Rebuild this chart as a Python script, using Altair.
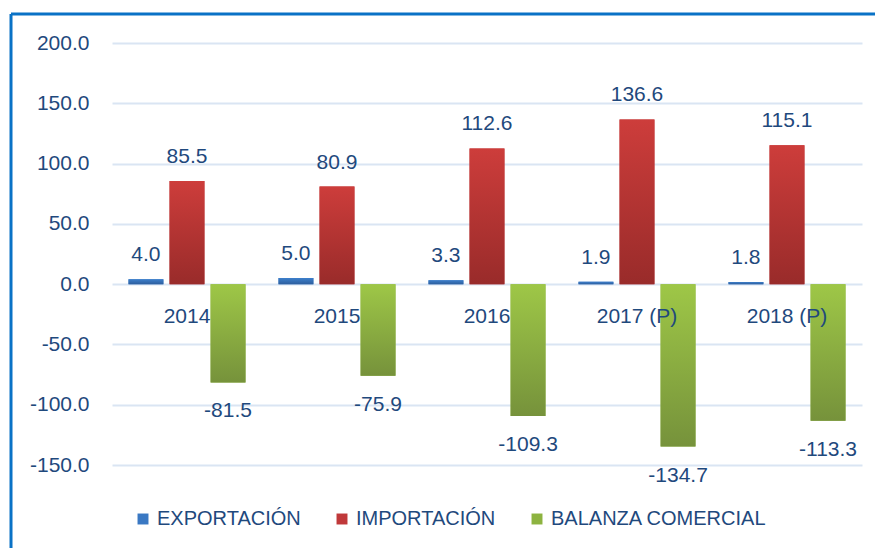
import altair as alt
import pandas as pd

years = ["2014", "2015", "2016", "2017 (P)", "2018 (P)"]
series = ["EXPORTACIÓN", "IMPORTACIÓN", "BALANZA COMERCIAL"]
exportacion = [4.0, 5.0, 3.3, 1.9, 1.8]
importacion = [85.5, 80.9, 112.6, 136.6, 115.1]
balanza = [-81.5, -75.9, -109.3, -134.7, -113.3]
y_ticks = [-150, -100, -50, 0, 50, 100, 150, 200]

rows = []
for i, yr in enumerate(years):
    rows.append({"year": yr, "series": series[0], "value": exportacion[i]})
    rows.append({"year": yr, "series": series[1], "value": importacion[i]})
    rows.append({"year": yr, "series": series[2], "value": balanza[i]})
df = pd.DataFrame(rows)

FONT = "Liberation Sans"
TXT = "#1F497D"
solid = ["#3a78c3", "#c0393a", "#8db340"]

def grad(top, bottom):
    return alt.Gradient(
        gradient="linear",
        stops=[alt.GradientStop(color=top, offset=0), alt.GradientStop(color=bottom, offset=1)],
        x1=0, x2=0, y1=0, y2=1,
    )

grads = [grad("#3d7fcb", "#2d5f9e"), grad("#cd3d3b", "#992b2a"), grad("#9ec747", "#76923b")]

X = alt.X("year:N", sort=years, scale=alt.Scale(domain=years, paddingInner=0.22, paddingOuter=0.11), axis=None)
XO = alt.XOffset("series:N", sort=series, scale=alt.Scale(domain=series, paddingInner=0.15, paddingOuter=0))
Y = alt.Y(
    "value:Q",
    scale=alt.Scale(domain=[-150, 200], nice=False, zero=False),
    axis=alt.Axis(
        values=y_ticks, title=None, domain=False, ticks=False,
        labelExpr="replace(format(datum.value, '.1f'), '\u2212', '-')",
        labelFont=FONT, labelFontSize=21, labelColor=TXT, labelPadding=23,
        grid=True, gridColor="#dae5f3", gridWidth=2,
    ),
)

base = alt.Chart(df).transform_calculate(
    label="replace(format(datum.value, '.1f'), '\u2212', '-')"
)

bars = base.mark_bar().encode(
    x=X, xOffset=XO, y=Y,
    color=alt.Color(
        "series:N", sort=series,
        scale=alt.Scale(domain=series, range=solid),
        legend=alt.Legend(
            title=None, orient="none", direction="horizontal",
            legendX=21, legendY=466,
            symbolType="square", symbolSize=120, symbolStrokeWidth=0,
            labelFont=FONT, labelFontSize=20, labelColor=TXT, labelLimit=400,
            labelOffset=4, columnPadding=31,
        ),
    ),
)

grad_layers = []
for s, g in zip(series, grads):
    grad_layers.append(
        base.transform_filter(alt.datum.series == s).mark_bar(color=g).encode(x=X, xOffset=XO, y="value:Q")
    )

pos_labels = base.transform_filter(alt.datum.value >= 0).mark_text(
    baseline="alphabetic", dy=-18, font=FONT, fontSize=21, color=TXT
).encode(x=X, xOffset=XO, y="value:Q", text="label:N")

neg_labels = base.transform_filter(alt.datum.value < 0).mark_text(
    baseline="alphabetic", dy=35, font=FONT, fontSize=21, color=TXT
).encode(x=X, xOffset=XO, y="value:Q", text="label:N")

cat_df = pd.DataFrame({"year": years})
cat_labels = alt.Chart(cat_df).mark_text(
    baseline="alphabetic", dy=39, font=FONT, fontSize=21, color=TXT
).encode(x=X, y=alt.datum(0), text="year:N")

one = pd.DataFrame({"k": [0]})
frame_left = alt.Chart(one).mark_rule(color="#0a72c6", strokeWidth=3).encode(
    x=alt.value(-101), y=alt.value(-29), y2=alt.value(520)
)
frame_top = alt.Chart(one).mark_rule(color="#0a72c6", strokeWidth=3).encode(
    x=alt.value(-101), x2=alt.value(780), y=alt.value(-29)
)

chart = alt.layer(
    bars, *grad_layers, pos_labels, neg_labels, cat_labels, frame_left, frame_top
).properties(
    width=750, height=422,
    autosize=alt.AutoSizeParams(type="none"),
    padding={"left": 112, "top": 43, "right": 13, "bottom": 83},
).configure_view(stroke=None)

chart.save("out.html", embed_options={"renderer": "svg", "actions": False})
